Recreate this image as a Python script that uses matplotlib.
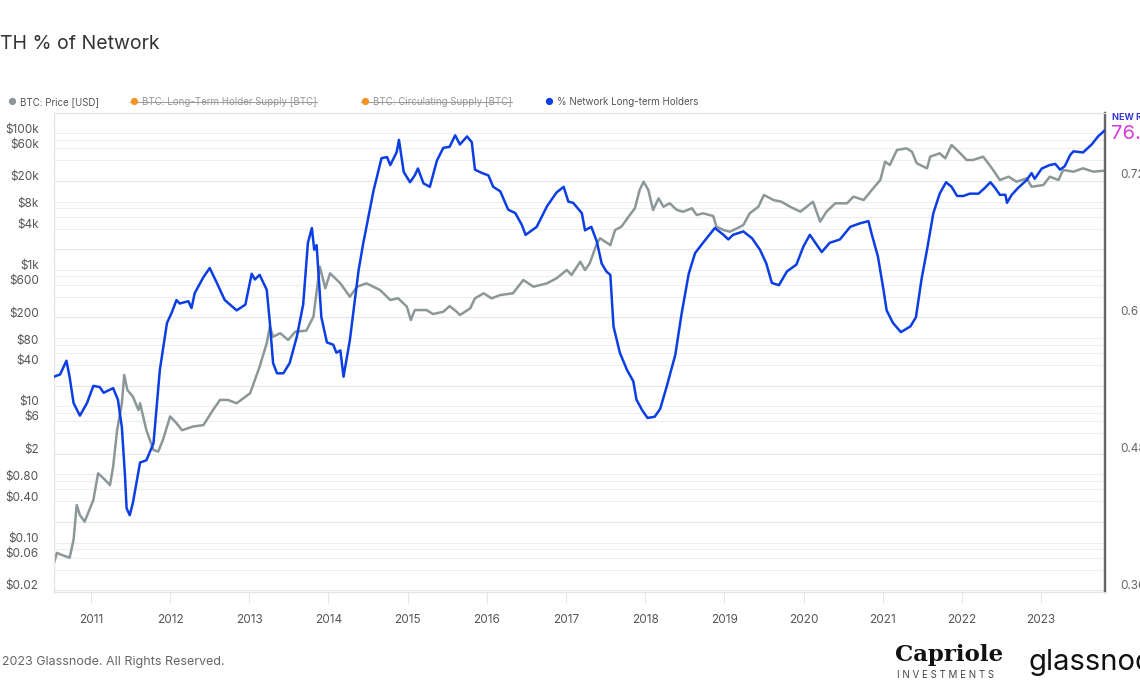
#!/usr/bin/env python3
import matplotlib
matplotlib.use('Agg')
import matplotlib.pyplot as plt
from matplotlib.lines import Line2D

plt.rcParams['font.family'] = ['Inter', 'DejaVu Sans']

# %%
# % of network held by long-term holders (decimal year, share)
lth_years = [2010.53, 2010.61, 2010.69, 2010.73, 2010.78, 2010.86, 2010.95, 2011.03, 2011.11, 2011.16,
             2011.28, 2011.34, 2011.39, 2011.43, 2011.45, 2011.49, 2011.53, 2011.62, 2011.70, 2011.79,
             2011.87, 2011.96, 2012.02, 2012.08, 2012.12, 2012.23, 2012.27, 2012.31, 2012.42, 2012.50,
             2012.59, 2012.69, 2012.84, 2012.95, 2013.03, 2013.07, 2013.13, 2013.22, 2013.26, 2013.30,
             2013.35, 2013.43, 2013.51, 2013.60, 2013.68, 2013.74, 2013.79, 2013.82, 2013.85, 2013.91,
             2013.98, 2014.06, 2014.10, 2014.15, 2014.19, 2014.27, 2014.38, 2014.44, 2014.57, 2014.67,
             2014.74, 2014.78, 2014.86, 2014.89, 2014.95, 2015.03, 2015.09, 2015.13, 2015.20, 2015.28,
             2015.37, 2015.45, 2015.53, 2015.60, 2015.66, 2015.75, 2015.81, 2015.85, 2015.94, 2016.02,
             2016.08, 2016.17, 2016.27, 2016.36, 2016.44, 2016.49, 2016.63, 2016.76, 2016.88, 2016.97,
             2017.03, 2017.09, 2017.20, 2017.24, 2017.32, 2017.39, 2017.45, 2017.51, 2017.56, 2017.60,
             2017.68, 2017.77, 2017.85, 2017.89, 2017.96, 2018.03, 2018.12, 2018.19, 2018.27, 2018.38,
             2018.46, 2018.55, 2018.63, 2018.73, 2018.88, 2018.99, 2019.05, 2019.11, 2019.24, 2019.35,
             2019.45, 2019.53, 2019.60, 2019.69, 2019.79, 2019.91, 2020.00, 2020.08, 2020.15, 2020.23,
             2020.33, 2020.46, 2020.59, 2020.71, 2020.82, 2020.86, 2020.94, 2021.01, 2021.05, 2021.13,
             2021.23, 2021.35, 2021.42, 2021.49, 2021.56, 2021.64, 2021.72, 2021.80, 2021.87, 2021.94,
             2022.02, 2022.10, 2022.21, 2022.29, 2022.36, 2022.42, 2022.48, 2022.55, 2022.57, 2022.63,
             2022.71, 2022.82, 2022.88, 2022.92, 2023.01, 2023.11, 2023.18, 2023.24, 2023.30, 2023.37,
             2023.41, 2023.53, 2023.64, 2023.72, 2023.80]
lth_share = [0.542, 0.544, 0.556, 0.542, 0.519, 0.508, 0.519, 0.534, 0.533, 0.528,
             0.532, 0.522, 0.498, 0.455, 0.427, 0.421, 0.432, 0.467, 0.469, 0.484,
             0.548, 0.589, 0.598, 0.609, 0.606, 0.608, 0.602, 0.615, 0.629, 0.637,
             0.624, 0.609, 0.600, 0.605, 0.632, 0.627, 0.631, 0.618, 0.589, 0.554,
             0.545, 0.545, 0.554, 0.577, 0.605, 0.659, 0.672, 0.653, 0.657, 0.594,
             0.572, 0.570, 0.563, 0.565, 0.542, 0.574, 0.635, 0.659, 0.705, 0.733,
             0.734, 0.727, 0.738, 0.749, 0.721, 0.712, 0.718, 0.724, 0.711, 0.708,
             0.731, 0.742, 0.743, 0.753, 0.745, 0.752, 0.747, 0.723, 0.720, 0.718,
             0.708, 0.704, 0.688, 0.685, 0.675, 0.666, 0.673, 0.691, 0.703, 0.708,
             0.695, 0.694, 0.685, 0.670, 0.673, 0.660, 0.641, 0.634, 0.631, 0.586,
             0.563, 0.548, 0.538, 0.522, 0.513, 0.506, 0.507, 0.514, 0.533, 0.561,
             0.597, 0.632, 0.650, 0.659, 0.672, 0.666, 0.662, 0.666, 0.669, 0.663,
             0.653, 0.641, 0.624, 0.622, 0.634, 0.640, 0.656, 0.666, 0.659, 0.651,
             0.659, 0.662, 0.673, 0.676, 0.678, 0.667, 0.647, 0.618, 0.600, 0.589,
             0.581, 0.586, 0.594, 0.627, 0.653, 0.685, 0.702, 0.712, 0.708, 0.700,
             0.700, 0.702, 0.702, 0.707, 0.712, 0.707, 0.701, 0.701, 0.694, 0.701,
             0.707, 0.714, 0.720, 0.715, 0.724, 0.727, 0.728, 0.723, 0.726, 0.736,
             0.739, 0.738, 0.745, 0.752, 0.757]

# BTC price in USD
price_years = [2010.53, 2010.57, 2010.63, 2010.73, 2010.78, 2010.82, 2010.86, 2010.92, 2011.03, 2011.09,
               2011.18, 2011.24, 2011.28, 2011.33, 2011.39, 2011.42, 2011.46, 2011.53, 2011.60, 2011.62,
               2011.70, 2011.79, 2011.85, 2011.91, 2012.00, 2012.08, 2012.15, 2012.29, 2012.42, 2012.54,
               2012.63, 2012.73, 2012.84, 2013.01, 2013.13, 2013.22, 2013.26, 2013.30, 2013.39, 2013.49,
               2013.58, 2013.72, 2013.81, 2013.89, 2013.96, 2014.02, 2014.15, 2014.27, 2014.36, 2014.48,
               2014.65, 2014.78, 2014.88, 2014.99, 2015.04, 2015.09, 2015.24, 2015.32, 2015.45, 2015.53,
               2015.62, 2015.66, 2015.79, 2015.85, 2015.96, 2016.06, 2016.17, 2016.33, 2016.46, 2016.59,
               2016.76, 2016.88, 2017.01, 2017.07, 2017.18, 2017.24, 2017.30, 2017.39, 2017.43, 2017.56,
               2017.62, 2017.70, 2017.79, 2017.87, 2017.93, 2017.98, 2018.04, 2018.10, 2018.17, 2018.23,
               2018.31, 2018.40, 2018.48, 2018.59, 2018.65, 2018.73, 2018.86, 2018.90, 2018.99, 2019.07,
               2019.16, 2019.24, 2019.32, 2019.43, 2019.50, 2019.62, 2019.72, 2019.83, 2019.96, 2020.12,
               2020.21, 2020.29, 2020.40, 2020.55, 2020.63, 2020.76, 2020.88, 2020.97, 2021.03, 2021.09,
               2021.18, 2021.30, 2021.37, 2021.43, 2021.56, 2021.60, 2021.72, 2021.79, 2021.87, 2021.96,
               2022.06, 2022.14, 2022.27, 2022.38, 2022.48, 2022.59, 2022.69, 2022.82, 2022.88, 2023.03,
               2023.11, 2023.22, 2023.28, 2023.41, 2023.53, 2023.66, 2023.80]
price_usd = [0.041, 0.059, 0.055, 0.050, 0.091, 0.296, 0.211, 0.169, 0.351, 0.865,
             0.69, 0.58, 1.08, 3.7, 9.2, 23.9, 14.4, 11.5, 7.3, 9.2,
             3.7, 1.9, 1.8, 2.7, 5.9, 4.7, 3.7, 4.2, 4.4, 7.3,
             10.3, 10.3, 9.2, 12.9, 31.6, 70, 122, 87, 98, 78,
             103, 107, 171, 925, 447, 741, 528, 336, 471, 528,
             422, 301, 318, 240, 153, 214, 214, 187, 202, 245,
             202, 181, 227, 318, 377, 318, 356, 377, 590, 471,
             528, 625, 828, 700, 1096, 828, 1038, 2037, 2414, 1923,
             3192, 3573, 5003, 6650, 12330, 16320, 12330, 6280, 9310, 7010,
             7870, 6280, 5930, 6650, 5300, 5610, 5130, 3573, 3192, 3015,
             3380, 3780, 5610, 7010, 10410, 8800, 8300, 7010, 5930, 8300,
             4230, 5930, 7870, 7870, 9840, 8800, 13060, 17280, 32060, 28660,
             47560, 50370, 44900, 30370, 25650, 37960, 42560, 35970, 56330, 44900,
             33960, 33960, 37960, 25650, 17280, 19320, 16320, 18290, 13770, 14590,
             19320, 17280, 24220, 22880, 25650, 22880, 23660]

price_ticks = [0.02, 0.06, 0.10, 0.40, 0.80, 2, 6, 10, 40, 80, 200, 600, 1000, 4000, 8000, 20000, 60000, 100000]
price_ticklabels = ['$0.02', '$0.06', '$0.10', '$0.40', '$0.80', '$2', '$6', '$10', '$40', '$80',
                    '$200', '$600', '$1k', '$4k', '$8k', '$20k', '$60k', '$100k']
lth_ticks = [0.36, 0.48, 0.6, 0.72]
lth_ticklabels = ['0.36', '0.48', '0.6', '0.72']
years = list(range(2011, 2024))

legend_items = [('BTC: Price [USD]', '#8c9797', False),
                ('BTC: Long-Term Holder Supply [BTC]', '#f39323', True),
                ('BTC: Circulating Supply [BTC]', '#f39323', True),
                ('% Network Long-term Holders', '#0b3ee3', False)]

# %%
W, H = 1140, 694
fig = plt.figure(figsize=(W / 100, H / 100), dpi=100)
ax = fig.add_axes([54 / W, 1 - 591.5 / H, (1105 - 54) / W, (591.5 - 113) / H])
ax2 = ax.twinx()

# hidden supply axis grid (log, 1-5 per decade)
grid_base = 1.67
for n in range(-3, 6):
    for k in [1, 2, 3, 4, 5]:
        v = grid_base * k * 10.0 ** n
        ax.axhline(v, color='#eeeeee' if k > 1 else '#e6e6e6', lw=0.8, zorder=0)

ax.plot(price_years, price_usd, color='#8c9797', lw=1.8, zorder=2)
ax2.plot(lth_years, lth_share, color='#0b3ee3', lw=1.8, zorder=3)

ax.set_yscale('log')
ax.set_ylim(10 ** -1.796, 10 ** 5.22)
ax2.set_ylim(0.3543, 0.7725)
ax.set_xlim(2010.533, 2023.808)

ax.set_yticks(price_ticks)
ax.set_yticklabels(price_ticklabels)
ax.yaxis.set_minor_locator(matplotlib.ticker.NullLocator())
ax.tick_params(axis='y', length=0, pad=11, labelsize=8.5, labelcolor='#555555')
ax2.set_yticks(lth_ticks)
ax2.set_yticklabels(lth_ticklabels)
ax2.tick_params(axis='y', length=0, pad=11, labelsize=8.5, labelcolor='#666666')

ax.set_xticks(years)
ax.set_xticklabels([str(y) for y in years])
ax.tick_params(axis='x', length=8, width=0.8, color='#e6e6e6', pad=8, labelsize=8.5, labelcolor='#555555')

for a in (ax, ax2):
    for side in ['top', 'bottom', 'left']:
        a.spines[side].set_color('#e4e4e4')
        a.spines[side].set_linewidth(0.8)
    a.spines['right'].set_color('#666666')
    a.spines['right'].set_linewidth(1.6)
ax2.patch.set_visible(False)

# %%
fig.text(-11 / W, 1 - 44 / H, 'LTH % of Network', fontsize=14, color='#333333', va='center', ha='left')

leg_x = [12, 134, 365, 549]
texts = []
for (label, col, struck), lx in zip(legend_items, leg_x):
    fig.text(lx / W, 1 - 102 / H, '\u25cf', fontsize=7, color=col, va='center', ha='center')
    t = fig.text((lx + 8) / W, 1 - 102 / H, label, fontsize=7,
                 color='#999999' if struck else '#555555', va='center', ha='left')
    texts.append((t, struck))

fig.text(1112 / W, 1 - 118 / H, 'NEW RECORD', fontsize=6.5, color='#3b3bd6', fontweight='bold',
         va='center', ha='left')
fig.text(1111 / W, 1 - 134 / H, '76.1%', fontsize=14.5, color='#d93ad9', va='center', ha='left')

fig.text(-13 / W, 1 - 662 / H, '\u00a9 2023 Glassnode. All Rights Reserved.', fontsize=9,
         color='#666666', va='center', ha='left')
fig.text(895 / W, 1 - 655 / H, 'Capriole', fontsize=16.5, color='#111111', fontweight='bold',
         family=['DejaVu Serif'], va='center', ha='left')
fig.text(897 / W, 1 - 675 / H, 'I N V E S T M E N T S', fontsize=7, color='#444444',
         va='center', ha='left')
fig.text(1029 / W, 1 - 662 / H, 'glassnode', fontsize=21, color='#111111', va='center', ha='left')

# strike through the hidden series in the legend
fig.canvas.draw()
inv = fig.transFigure.inverted()
for t, struck in texts:
    if not struck:
        continue
    bb = t.get_window_extent().transformed(inv)
    ym = (bb.y0 + bb.y1) / 2
    fig.add_artist(Line2D([bb.x0 - 12 / W, bb.x1], [ym, ym], color='#999999', lw=0.7,
                          transform=fig.transFigure))

plt.savefig('out.png', dpi=100)
plt.close()
